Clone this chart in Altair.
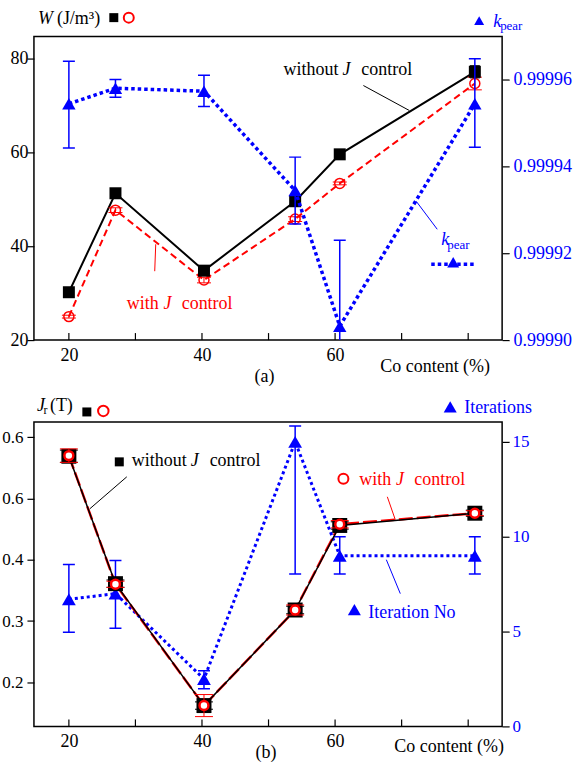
import altair as alt
import pandas as pd

# ---------------- data ----------------
co_content = [20, 27, 40.3, 54, 60.7, 81]

w_without = [30.2, 51.3, 34.8, 49.6, 59.6, 77.2]
w_without_err = [0.5, 0.9, 0.9, 1.0, 0.5, 1.3]
w_with = [25.0, 47.7, 32.8, 45.8, 53.4, 74.7]
w_with_err = [0.3, 0.5, 0.6, 0.5, 0.3, 1.35]
kpear = [0.9999545, 0.9999581, 0.9999574, 0.9999345, 0.9999032, 0.9999545]
kpear_low = [0.9999443, 0.9999560, 0.9999539, 0.9999268, 0.9998834, 0.9999445]
kpear_high = [0.9999643, 0.9999601, 0.9999611, 0.9999422, 0.9999230, 0.9999649]

jr_without = [0.569, 0.361, 0.162, 0.318, 0.456, 0.476]
jr_without_err = [0.010, 0.006, 0.006, 0.006, 0.006, 0.005]
jr_with = [0.570, 0.360, 0.162, 0.318, 0.458, 0.476]
jr_with_err = [0.011, 0.005, 0.018, 0.008, 0.006, 0.004]
iterations = [6.7, 7.0, 2.5, 15.0, 9.0, 9.0]
iterations_low = [4.96, 5.17, 1.98, 8.04, 8.04, 8.04]
iterations_high = [8.54, 8.74, 2.93, 15.84, 10.0, 10.0]

x_ticks = [20, 30, 40, 50, 60, 70, 80]
x_labels = [20, 40, 60]
w_ticks = [20, 40, 60, 80]
k_ticks = [0.9999, 0.99992, 0.99994, 0.99996]
jr_ticks = [0.2, 0.3, 0.4, 0.5, 0.6]
jr_tick_labels = ["0.2", "0.3", "0.4", "0.6", "0.6"]
it_ticks = [0, 5, 10, 15]

# ---------------- tables ----------------
df_a = pd.DataFrame({
    "co": co_content,
    "wo": w_without,
    "wo_lo": [v - e for v, e in zip(w_without, w_without_err)],
    "wo_hi": [v + e for v, e in zip(w_without, w_without_err)],
    "wi": w_with,
    "wi_lo": [v - e for v, e in zip(w_with, w_with_err)],
    "wi_hi": [v + e for v, e in zip(w_with, w_with_err)],
    "k": kpear, "k_lo": kpear_low, "k_hi": kpear_high,
})
df_b = pd.DataFrame({
    "co": co_content,
    "wo": jr_without,
    "wo_lo": [v - e for v, e in zip(jr_without, jr_without_err)],
    "wo_hi": [v + e for v, e in zip(jr_without, jr_without_err)],
    "wi": jr_with,
    "wi_lo": [v - e for v, e in zip(jr_with, jr_with_err)],
    "wi_hi": [v + e for v, e in zip(jr_with, jr_with_err)],
    "k": iterations, "k_lo": iterations_low, "k_hi": iterations_high,
})
df_ticks = pd.DataFrame({"t": x_ticks})
ANN = pd.DataFrame({"d": [0]})

FONT = "'Liberation Serif', 'Times New Roman', 'DejaVu Serif', serif"
BLUE = "#0000ff"
RED = "#ff0000"
W = 469
HA = 304
HB = 305


def X(field):
    return alt.X(f"{field}:Q",
                 scale=alt.Scale(domain=[14.75, 85.1], nice=False, zero=False),
                 axis=alt.Axis(values=x_labels, title=None, ticks=False, tickSize=0,
                               domain=False, grid=False, labelFont=FONT,
                               labelFontSize=18, labelColor="black",
                               labelPadding=6, labelFlush=False))


def make_y(domain, values, orient, size, color, tick_pad, fmt=None, expr=None):
    def Y(field):
        kw = dict(values=values, title=None, orient=orient, tickSize=7,
                  tickColor="black", tickWidth=1.2, domain=False, grid=False,
                  labelFont=FONT, labelFontSize=size, labelColor=color,
                  labelPadding=tick_pad, labelFlush=False, labelOverlap=False)
        if fmt:
            kw["format"] = fmt
        if expr:
            kw["labelExpr"] = expr
        return alt.Y(f"{field}:Q",
                     scale=alt.Scale(domain=domain, nice=False, zero=False),
                     axis=alt.Axis(**kw))
    return Y


def txt(s, x, y, size=18, color="black", italic=False):
    return alt.Chart(ANN).mark_text(
        text=s, font=FONT, fontSize=size, color=color,
        fontStyle="italic" if italic else "normal",
        align="left", baseline="alphabetic").encode(x=alt.value(x), y=alt.value(y))


def seg(x1, y1, x2, y2, color, width=1.0, dash=None):
    kw = dict(color=color, strokeWidth=width)
    if dash:
        kw["strokeDash"] = dash
        kw["strokeCap"] = "butt"
    return alt.Chart(ANN).mark_rule(**kw).encode(
        x=alt.value(x1), y=alt.value(y1), x2=alt.value(x2), y2=alt.value(y2))


def sym(shape, x, y, size, color, filled=True, sw=1.0):
    if filled:
        kw = dict(shape=shape, size=size, opacity=1, filled=True, color=color)
    else:
        kw = dict(shape=shape, size=size, opacity=1, filled=False, stroke=color,
                  strokeWidth=sw)
    return alt.Chart(ANN).mark_point(**kw).encode(x=alt.value(x), y=alt.value(y))


def xticks(h):
    return alt.Chart(df_ticks).mark_rule(color="black", strokeWidth=1.2).encode(
        x=X("t"), y=alt.value(h), y2=alt.value(h - 7))


def errbars(base, Y, lo, hi, color, cap, width=1.0, clip=False):
    rule = base.mark_rule(color=color, strokeWidth=width, clip=clip).encode(
        x=X("co"), y=Y(lo), y2=alt.Y2(hi))
    t1 = base.mark_tick(orient="horizontal", size=cap, thickness=width, color=color,
                        opacity=1, clip=clip).encode(x=X("co"), y=Y(lo))
    t2 = base.mark_tick(orient="horizontal", size=cap, thickness=width, color=color,
                        opacity=1, clip=clip).encode(x=X("co"), y=Y(hi))
    return [rule, t1, t2]


# ---------------- panel (a) ----------------
YA = make_y([20, 84.7], w_ticks, "left", 18, "black", -1)
YK = make_y([0.9999, 0.99997], k_ticks, "right", 18, BLUE, 4, fmt=".5f")
ba = alt.Chart(df_a)

left_a = alt.layer(
    seg(-32, -34, -32, -34, "transparent"),
    xticks(HA),
    ba.mark_line(color=RED, strokeWidth=2, strokeDash=[7, 4]).encode(x=X("co"), y=YA("wi")),
    ba.mark_line(color="black", strokeWidth=2).encode(x=X("co"), y=YA("wo")),
    *errbars(ba, YA, "wi_lo", "wi_hi", RED, 14),
    ba.mark_point(shape="circle", filled=False, stroke=RED, strokeWidth=1.5, size=100,
                  opacity=1).encode(x=X("co"), y=YA("wi")),
    ba.mark_point(shape="square", filled=True, color="black", size=144,
                  opacity=1).encode(x=X("co"), y=YA("wo")),
    *errbars(ba, YA, "wo_lo", "wo_hi", "black", 10),
    # headers
    txt("W", 4, -13, italic=True),
    txt("(J/m³)", 23, -13),
    sym("square", 80, -19, 81, "black"),
    sym("circle", 95, -19, 100, RED, filled=False, sw=2),
    sym("triangle-up", 446, -16, 100, BLUE),
    txt("k", 460, -10, color=BLUE, italic=True),
    txt("pear", 467, -7, size=13, color=BLUE),
    # annotations
    txt("without", 250, 38),
    txt("J", 309, 38, italic=True),
    txt("control", 328, 38),
    seg(330, 49, 376, 74, "black", 1),
    txt("with", 93, 272.7, color=RED),
    txt("J", 129.7, 272.7, color=RED, italic=True),
    txt("control", 148, 272.7, color=RED),
    seg(122, 208, 121, 235, RED, 1),
    txt("k", 408, 209, color=BLUE, italic=True),
    txt("pear", 414, 213, size=13, color=BLUE),
    seg(383, 165, 404, 193, BLUE, 1),
    seg(398, 228, 442, 228, BLUE, 3.5, dash=[3.5, 3]),
    sym("triangle-up", 420, 226, 144, BLUE),
    txt("Co content (%)", 347, 336),
    txt("(a)", 221, 346),
)

right_a = alt.layer(
    ba.mark_line(color=BLUE, strokeWidth=3.5, strokeDash=[3.5, 3],
                 strokeCap="butt").encode(x=X("co"), y=YK("k")),
    *errbars(ba, YK, "k_lo", "k_hi", BLUE, 12, width=1.5, clip=True),
    ba.mark_point(shape="triangle-up", filled=True, color=BLUE, size=180,
                  opacity=1).encode(x=X("co"), y=YK("k")),
)

panel_a = alt.layer(left_a, right_a).resolve_scale(y="independent").properties(
    width=W, height=HA)

# ---------------- panel (b) ----------------
expr_b = " : ".join(
    [f"datum.value == {v} ? '{s}'" for v, s in zip(jr_ticks, jr_tick_labels)] + ["''"])
YB = make_y([0.128, 0.625], jr_ticks, "left", 17, "black", 4, expr=expr_b)
YI = make_y([0, 16.05], it_ticks, "right", 17, BLUE, 3)
bb = alt.Chart(df_b)

right_b = alt.layer(
    bb.mark_line(color=BLUE, strokeWidth=3, strokeDash=[3, 3],
                 strokeCap="butt").encode(x=X("co"), y=YI("k")),
    *errbars(bb, YI, "k_lo", "k_hi", BLUE, 12, width=1.5, clip=True),
    bb.mark_point(shape="triangle-up", filled=True, color=BLUE, size=190,
                  opacity=1).encode(x=X("co"), y=YI("k")),
)

left_b = alt.layer(
    xticks(HB),
    bb.mark_line(color=RED, strokeWidth=2.5, strokeDash=[14, 4]).encode(x=X("co"), y=YB("wi")),
    bb.mark_line(color="black", strokeWidth=1.5).encode(x=X("co"), y=YB("wo")),
    *errbars(bb, YB, "wo_lo", "wo_hi", "black", 18),
    bb.mark_point(shape="square", filled=True, color="black", size=225,
                  opacity=1).encode(x=X("co"), y=YB("wo")),
    *errbars(bb, YB, "wi_lo", "wi_hi", RED, 18),
    bb.mark_point(shape="circle", filled=True, fill="white", stroke=RED, strokeWidth=2.5,
                  size=80, opacity=1).encode(x=X("co"), y=YB("wi")),
    # headers
    txt("J", 3, -11, italic=True),
    txt("r", 9.5, -8, size=12),
    txt("(T)", 16, -11),
    sym("square", 53, -10, 81, "black"),
    sym("circle", 69.5, -11, 110, RED, filled=False, sw=2),
    sym("triangle-up", 417, -15, 170, BLUE),
    txt("Iterations", 431, -9, color=BLUE),
    # annotations
    sym("square", 85.5, 40, 81, "black"),
    txt("without", 98, 44),
    txt("J", 157, 44, italic=True),
    txt("control", 176, 44),
    seg(93, 55, 56, 87, "black", 1),
    sym("circle", 310, 57, 100, RED, filled=False, sw=2),
    txt("with", 326, 63, color=RED),
    txt("J", 362.7, 63, color=RED, italic=True),
    txt("control", 381, 63, color=RED),
    seg(354, 75, 362, 98, RED, 1),
    seg(353, 138, 367, 172, BLUE, 1),
    sym("triangle-up", 321, 188, 170, BLUE),
    txt("Iteration No", 335, 196, color=BLUE),
    txt("Co content (%)", 361, 331),
    txt("(b)", 222, 337),
)

panel_b = alt.layer(right_b, left_b).resolve_scale(y="independent").properties(
    width=W, height=HB)

chart = alt.vconcat(panel_a, panel_b, spacing=82, bounds="flush").properties(
    padding=0
).configure_view(stroke="black", strokeWidth=1.5)

chart.save("out.html", embed_options={"renderer": "svg", "actions": False})
